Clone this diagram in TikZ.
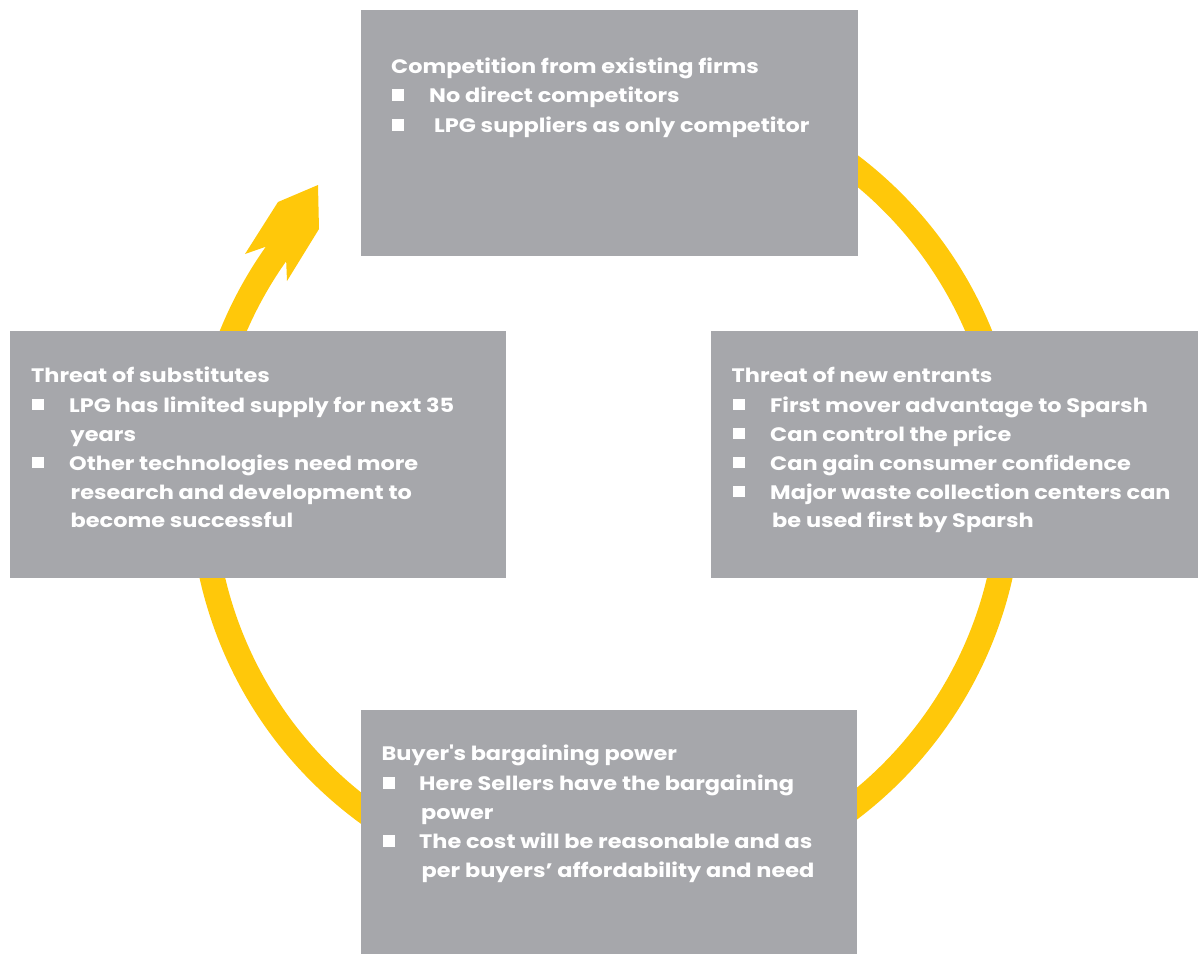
\documentclass[tikz,border=0pt]{standalone}
\usepackage{fontspec}
\setmainfont{Poppins}[FakeStretch=1.15]
\definecolor{boxgray}{RGB}{166,167,171}
\definecolor{ringyellow}{RGB}{255,200,10}
\tikzset{
  panel/.style={fill=boxgray, draw=none, anchor=north west, inner sep=0pt},
  line/.style={anchor=base west, inner sep=0pt, text=white,
    font=\fontsize{19.5}{29}\selectfont\bfseries},
  sq/.style={fill=white, draw=none, anchor=south west, inner sep=0pt,
    minimum width=11.5pt, minimum height=11.5pt},
}
\begin{document}
\begin{tikzpicture}[x=1pt,y=-1pt]
\useasboundingbox (0,0) rectangle (1198,954);

% cycle ring and its arrowhead
\draw[ringyellow, line width=25pt] (606,487) ++(216:404) arc[start angle=216, end angle=-80, radius=404];
\fill[ringyellow] (245,254) -- (278,202) -- (318,185) -- (319,229) -- (287,281) -- (286,257) -- (265,247) -- cycle;

% panels
\node[panel, minimum width=497pt, minimum height=246pt] (top) at (361,10) {};
\node[panel, minimum width=496pt, minimum height=247pt] (left) at (10,331) {};
\node[panel, minimum width=487pt, minimum height=247pt] (right) at (711,331) {};
\node[panel, minimum width=496pt, minimum height=244pt] (bottom) at (361,710) {};

% top panel text
\node[line] (t0) at (391,73) {Competition from existing firms};
\node[sq] (tb1) at (392,101) {};
\node[line] (t1) at (429,102.5) {No direct competitors};
\node[sq] (tb2) at (392,131) {};
\node[line] (t2) at (434,132.5) {LPG suppliers as only competitor};

% left panel text
\node[line] (l0) at (31,382.5) {Threat of substitutes};
\node[sq] (lb1) at (32,410.5) {};
\node[line] (l1) at (69,412) {LPG has limited supply for next 35};
\node[line] (l2) at (70.5,441) {years};
\node[sq] (lb2) at (32,468.5) {};
\node[line] (l3) at (69,470) {Other technologies need more};
\node[line] (l4) at (70.5,499) {research and development to};
\node[line] (l5) at (70.5,527.5) {become successful};

% right panel text
\node[line] (r0) at (731.5,382.5) {Threat of new entrants};
\node[sq] (rb1) at (733,410.5) {};
\node[line] (r1) at (770,412) {First mover advantage to Sparsh};
\node[sq] (rb2) at (733,439.5) {};
\node[line] (r2) at (770,441) {Can control the price};
\node[sq] (rb3) at (733,468.5) {};
\node[line] (r3) at (770,470) {Can gain consumer confidence};
\node[sq] (rb4) at (733,497.5) {};
\node[line] (r4) at (770,499) {Major waste collection centers can};
\node[line] (r5) at (772,527.5) {be used first by Sparsh};

% bottom panel text
\node[line] (b0) at (381.5,760.5) {Buyer\textquotesingle s bargaining power};
\node[sq] (bb1) at (383,789) {};
\node[line] (b1) at (419,790.5) {Here Sellers have the bargaining};
\node[line] (b2) at (421,819.5) {power};
\node[sq] (bb2) at (383,847) {};
\node[line] (b3) at (419,848.5) {The cost will be reasonable and as};
\node[line] (b4) at (421.5,877.5) {per buyers’ affordability and need};
\end{tikzpicture}
\end{document}
